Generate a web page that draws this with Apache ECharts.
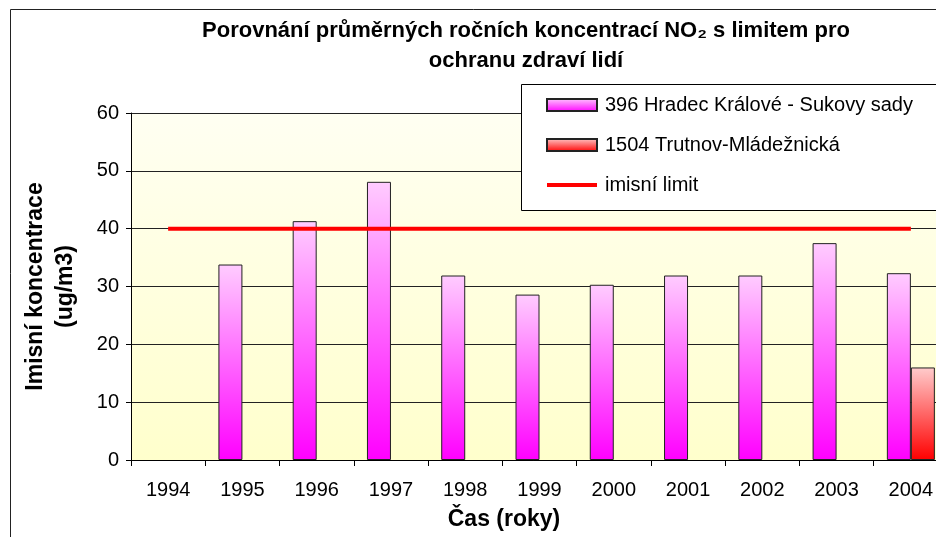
<!DOCTYPE html>
<html>
<head>
<meta charset="utf-8">
<script src="https://cdn.jsdelivr.net/npm/echarts@6/dist/echarts.min.js"></script>
<style>
  html, body { margin: 0; padding: 0; background: #fff; }
  #chart { width: 936px; height: 537px; }
</style>
</head>
<body>
<div id="chart"></div>
<script>
// Years on the category axis
const years = ['1994', '1995', '1996', '1997', '1998', '1999', '2000', '2001', '2002', '2003', '2004'];
// Annual mean NO2 concentrations (ug/m3) per station
const hradecValues = [null, 33.8, 41.3, 48.1, 31.9, 28.6, 30.3, 31.9, 31.9, 37.5, 32.3];
const trutnovValues = [null, null, null, null, null, null, null, null, null, null, 16.0];
// Annual limit for human health protection
const limitValues = [40, 40, 40, 40, 40, 40, 40, 40, 40, 40, 40];
const yTicks = [0, 10, 20, 30, 40, 50, 60];

const seriesNames = ['396 Hradec Králové - Sukovy sady', '1504 Trutnov-Mládežnická', 'imisní limit'];

const FONT = '"Liberation Sans", Arial, sans-serif';

function vGrad(top, bottom) {
  return new echarts.graphic.LinearGradient(0, 0, 0, 1, [
    { offset: 0, color: top },
    { offset: 1, color: bottom }
  ]);
}

// thin horizontal stroke used as the legend icon of the limit line
const LIMIT_ICON = 'path://M0,0L0,0M0,4L50,4L50,8L0,8ZM50,12L50,12';

const chart = echarts.init(document.getElementById('chart'), null, { renderer: 'canvas' });

chart.setOption({
  backgroundColor: '#ffffff',
  animation: false,
  textStyle: { fontFamily: FONT },
  title: {
    text: 'Porovnání průměrných ročních koncentrací NO₂ s limitem pro\nochranu zdraví lidí',
    left: 521,
    textAlign: 'center',
    top: 11,
    textStyle: { fontFamily: FONT, fontSize: 22, fontWeight: 'bold', color: '#000', lineHeight: 30 }
  },
  graphic: [
    {
      type: 'rect', z: -10, silent: true,
      shape: { x: 10.5, y: 9.5, width: 1000, height: 600 },
      style: { fill: 'none', stroke: '#222', lineWidth: 1 }
    },
    {
      type: 'rect', z: 100, silent: true,
      shape: { x: 521.5, y: 84.5, width: 500, height: 126 },
      style: { fill: '#ffffff', stroke: '#000', lineWidth: 1 }
    },
    {
      type: 'text', z: 10, silent: true,
      x: 504, y: 520,
      style: {
        text: 'Čas (roky)',
        font: 'bold 23px ' + FONT, fill: '#000',
        align: 'center', verticalAlign: 'middle'
      }
    }
  ],
  legend: {
    orient: 'vertical',
    left: 546,
    top: 95,
    padding: 0,
    z: 110,
    itemWidth: 50,
    itemHeight: 12,
    itemGap: 20,
    data: [
      { name: seriesNames[0], icon: 'rect' },
      { name: seriesNames[1], icon: 'rect' },
      { name: seriesNames[2], icon: LIMIT_ICON }
    ],
    textStyle: { fontFamily: FONT, fontSize: 20, color: '#000', padding: [0, 0, 0, 3] }
  },
  grid: {
    left: 131, width: 817, top: 113, bottom: 77,
    outerBoundsMode: 'none',
    containLabel: false,
    show: true,
    borderWidth: 0,
    backgroundColor: vGrad('#FFFFF2', '#FFFFCC')
  },
  xAxis: {
    type: 'category',
    data: years,
    boundaryGap: true,
    axisLine: { lineStyle: { color: '#000', width: 1 } },
    axisTick: { show: true, length: 6, lineStyle: { color: '#000' } },
    axisLabel: { fontFamily: FONT, fontSize: 20, color: '#000', margin: 20 },
    splitLine: { show: false }
  },
  yAxis: {
    type: 'value',
    min: yTicks[0],
    max: yTicks[yTicks.length - 1],
    interval: 10,
    name: 'Imisní koncentrace\n(ug/m3)',
    nameLocation: 'middle',
    nameRotate: 90,
    nameGap: 50,
    nameTextStyle: { fontFamily: FONT, fontSize: 23, fontWeight: 'bold', color: '#000', lineHeight: 30 },
    axisLine: { show: true, lineStyle: { color: '#000', width: 1 } },
    axisTick: { show: true, length: 5, inside: false, lineStyle: { color: '#000' } },
    axisLabel: { fontFamily: FONT, fontSize: 20, color: '#000', margin: 12 },
    splitLine: { show: true, lineStyle: { color: '#222', width: 1 } }
  },
  series: [
    {
      name: seriesNames[0],
      type: 'bar',
      data: hradecValues,
      barWidth: 24,
      barGap: '0%',
      itemStyle: { color: vGrad('#FFCCFF', '#FF00FF'), borderColor: '#222', borderWidth: 1 }
    },
    {
      name: seriesNames[1],
      type: 'bar',
      data: trutnovValues,
      barWidth: 24,
      barGap: '0%',
      itemStyle: { color: vGrad('#FFCCCC', '#FF0000'), borderColor: '#222', borderWidth: 1 }
    },
    {
      name: seriesNames[2],
      type: 'line',
      data: limitValues,
      symbol: 'none',
      z: 5,
      lineStyle: { color: '#FF0000', width: 4 },
      itemStyle: { color: '#FF0000' }
    }
  ]
});
</script>
</body>
</html>
